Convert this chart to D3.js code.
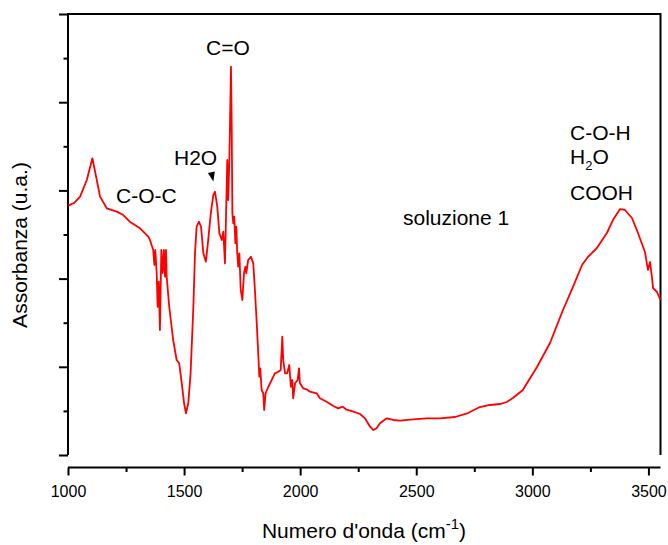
<!DOCTYPE html>
<html>
<head>
<meta charset="utf-8">
<script src="https://cdn.jsdelivr.net/npm/d3@7"></script>
<style>
  body { margin: 0; background: #fff; }
  text { font-family: "Liberation Sans", Arial, sans-serif; fill: #000; }
</style>
</head>
<body>
<script>
// spectrum (wavenumber in cm-1, absorbance in a.u.)
var wavenumbers = [1001, 1026, 1052, 1081, 1105, 1124, 1138, 1167, 1210, 1238, 1266, 1310, 1346, 1353,
	1367, 1372, 1376, 1382, 1386, 1391, 1396, 1402, 1408, 1413, 1418, 1422, 1425, 1436, 1453, 1468,
	1479, 1490, 1500, 1508, 1518, 1528, 1540, 1547, 1554, 1564, 1573, 1583, 1594, 1604, 1615, 1626,
	1633, 1643, 1652, 1662, 1669, 1676, 1680, 1686, 1690, 1695, 1699, 1702, 1705, 1708, 1712, 1716,
	1721, 1725, 1729, 1733, 1738, 1744, 1751, 1758, 1764, 1768, 1776, 1788, 1798, 1805, 1813, 1820,
	1824, 1828, 1834, 1841, 1845, 1851, 1863, 1877, 1891, 1906, 1916, 1923, 1927, 1935, 1944, 1953,
	1960, 1966, 1970, 1978, 1989, 1995, 1999, 2013, 2028, 2042, 2071, 2085, 2114, 2143, 2164, 2183,
	2197, 2229, 2258, 2279, 2301, 2315, 2329, 2344, 2373, 2401, 2430, 2487, 2545, 2602, 2667, 2723,
	2774, 2817, 2860, 2890, 2916, 2959, 3020, 3076, 3132, 3175, 3214, 3239, 3278, 3321, 3347, 3378,
	3399, 3429, 3455, 3485, 3498, 3507, 3515, 3520, 3537, 3552];

var absorbance = [2.827, 2.857, 2.929, 3.118, 3.364, 3.118, 2.929, 2.797, 2.759, 2.721, 2.645, 2.570, 2.475, 2.438,
	2.324, 2.154, 2.324, 2.063, 1.681, 1.965, 1.417, 2.324, 2.063, 2.324, 2.022, 2.324, 2.022, 1.681, 1.304, 1.077,
	1.040, 0.813, 0.586, 0.473, 0.586, 0.926, 1.681, 2.287, 2.588, 2.645, 2.588, 2.287, 2.192, 2.438, 2.740, 2.948,
	2.985, 2.815, 2.514, 2.438, 2.532, 2.173, 2.627, 3.345, 2.891, 3.345, 3.949, 4.402, 3.761, 2.740, 2.627, 2.702,
	2.400, 2.588, 2.287, 2.135, 2.287, 1.871, 1.757, 2.060, 2.135, 2.060, 2.211, 2.248, 2.173, 1.871, 1.493, 1.115,
	0.888, 0.983, 0.737, 0.700, 0.510, 0.700, 0.774, 0.850, 0.926, 0.944, 0.964, 1.341, 1.077, 0.926, 0.926, 1.020,
	0.774, 0.850, 0.643, 0.813, 0.850, 0.983, 0.813, 0.756, 0.745, 0.718, 0.700, 0.643, 0.604, 0.556, 0.529, 0.548,
	0.518, 0.491, 0.465, 0.416, 0.321, 0.283, 0.303, 0.359, 0.416, 0.397, 0.389, 0.405, 0.416, 0.416, 0.431, 0.476,
	0.544, 0.567, 0.578, 0.601, 0.646, 0.737, 0.998, 1.270, 1.644, 1.905, 2.154, 2.245, 2.347, 2.517, 2.664, 2.789,
	2.778, 2.687, 2.517, 2.302, 2.098, 2.188, 2.018, 1.893, 1.848, 1.757];

var xMajorTicks = [1000, 1500, 2000, 2500, 3000, 3500];
var xMinorTicks = [1250, 1750, 2250, 2750, 3250];
var yMajorTicks = [0, 1, 2, 3, 4, 5];
var yMinorTicks = [0.5, 1.5, 2.5, 3.5, 4.5];

var width = 668, height = 545;
var plotL = 68, plotR = 660.5, plotT = 14, plotB = 455, axisY = 467.5;

var svg = d3.select("body").append("svg")
	.attr("width", width)
	.attr("height", height);

var x = d3.scaleLinear().domain([1000, 3552]).range([plotL, plotR]);
var y = d3.scaleLinear().domain([0, 5]).range([plotB, plotT]);

var data = wavenumbers.map(function(w, i) { return [w, absorbance[i]]; });

// frame: left, top, right
svg.append("path")
	.attr("d", "M" + plotL + "," + plotB + "V" + plotT + "H" + plotR + "V" + plotB)
	.attr("fill", "none")
	.attr("stroke", "#000")
	.attr("stroke-width", 2);

// left axis ticks, unlabeled
function yTicks(vals, size) {
	svg.append("g")
		.attr("transform", "translate(" + plotL + ",0)")
		.call(d3.axisLeft(y).tickValues(vals).tickSize(size).tickFormat(""))
		.call(function(g) { g.select(".domain").remove(); })
		.selectAll("line").attr("stroke-width", 2);
}
yTicks(yMajorTicks, 9);
yTicks(yMinorTicks, 4.5);

// bottom axis, offset from the frame
var xAxis = svg.append("g")
	.attr("transform", "translate(0," + axisY + ")")
	.call(d3.axisBottom(x).tickValues(xMajorTicks).tickSize(8).tickPadding(10).tickFormat(d3.format("d")));
xAxis.select(".domain").attr("d", "M" + plotL + ",0H" + plotR).attr("stroke-width", 2);
xAxis.selectAll("line").attr("stroke-width", 2);
xAxis.selectAll("text")
	.style("font-family", "'Liberation Sans', Arial, sans-serif")
	.style("font-size", "16px");

svg.append("g")
	.attr("transform", "translate(0," + axisY + ")")
	.call(d3.axisBottom(x).tickValues(xMinorTicks).tickSize(4.5).tickFormat(""))
	.call(function(g) { g.select(".domain").remove(); })
	.selectAll("line").attr("stroke-width", 2);

// spectrum
svg.append("path")
	.datum(data)
	.attr("fill", "none")
	.attr("stroke", "#ff0000")
	.attr("stroke-width", 1.8)
	.attr("stroke-linejoin", "round")
	.attr("d", d3.line()
		.x(function(d) { return x(d[0]); })
		.y(function(d) { return y(d[1]); }));

// axis titles
svg.append("text")
	.attr("transform", "translate(27,245) rotate(-90)")
	.attr("text-anchor", "middle")
	.style("font-size", "21px")
	.text("Assorbanza (u.a.)");

var xt = svg.append("text")
	.attr("x", 364)
	.attr("y", 538)
	.attr("text-anchor", "middle")
	.style("font-size", "21px");
xt.append("tspan").text("Numero d'onda (cm");
xt.append("tspan").attr("dy", -9).style("font-size", "15px").text("-1");
xt.append("tspan").attr("dy", 9).text(")");

// band annotations
function label(txt, px, py) {
	return svg.append("text")
		.attr("x", px)
		.attr("y", py)
		.style("font-size", "21px")
		.text(txt);
}
label("C=O", 206, 55);
label("H2O", 174, 165);
label("C-O-C", 116, 203);
label("soluzione 1", 403, 225);
label("C-O-H", 570, 140);
label("COOH", 570, 200);

var h2o = svg.append("text")
	.attr("x", 570)
	.attr("y", 164)
	.style("font-size", "21px");
h2o.append("tspan").text("H");
h2o.append("tspan").attr("dy", 6).style("font-size", "13px").text("2");
h2o.append("tspan").attr("dy", -6).text("O");

// arrowhead pointing at the water band
var tipX = x(1626), tipY = y(3.1);
svg.append("path")
	.attr("d", "M" + tipX + "," + tipY + "L" + (tipX - 5.5) + "," + (tipY - 8.5) + "L" + (tipX + 1.5) + "," + (tipY - 10) + "Z")
	.attr("fill", "#000");
</script>
</body>
</html>
